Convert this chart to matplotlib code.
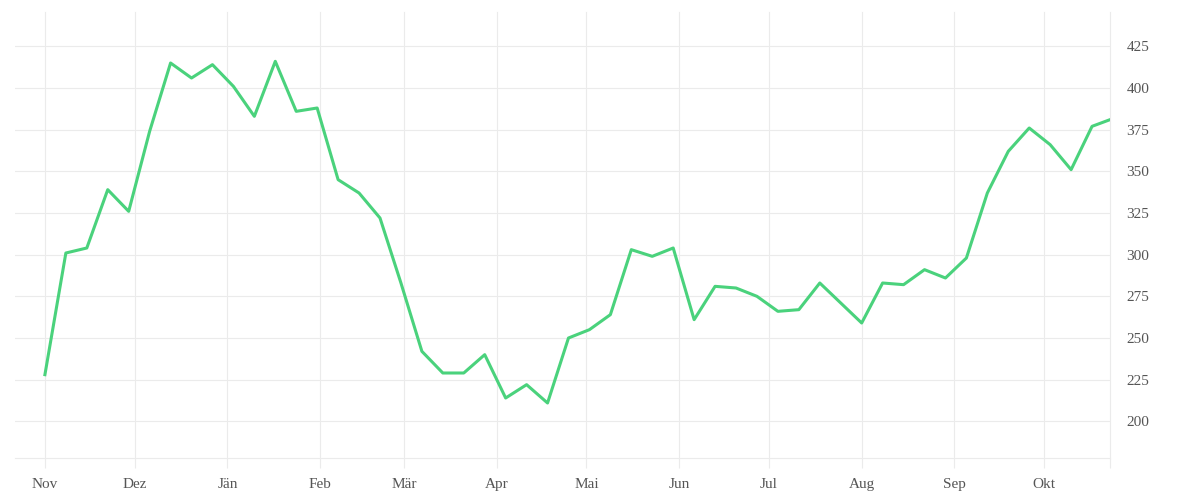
import matplotlib
matplotlib.use("Agg")
import matplotlib.pyplot as plt
import numpy as np
from datetime import date, timedelta

# weekly values, first week starting 1 Nov
values = [228, 301, 304, 339, 326, 374, 415, 406, 414, 401,
          383, 416, 386, 388, 345, 337, 322, 283, 242, 229,
          229, 240, 214, 222, 211, 250, 255, 264, 303, 299,
          304, 261, 281, 280, 275, 266, 267, 283, 271, 259,
          283, 282, 291, 286, 298, 337, 362, 376, 366, 351,
          377, 381]
start = date(2022, 11, 1)
dates = [start + timedelta(days=7 * i) for i in range(len(values) - 1)]
dates.append(dates[-1] + timedelta(days=6))

month_labels = ["Nov", "Dez", "Jän", "Feb", "Mär", "Apr", "Mai",
                "Jun", "Jul", "Aug", "Sep", "Okt"]
month_ticks = [date(2022, 11, 1), date(2022, 12, 1), date(2023, 1, 1),
               date(2023, 2, 1), date(2023, 3, 1), date(2023, 4, 1),
               date(2023, 5, 1), date(2023, 6, 1), date(2023, 7, 1),
               date(2023, 8, 1), date(2023, 9, 1), date(2023, 10, 1)]
y_ticks = [200, 225, 250, 275, 300, 325, 350, 375, 400, 425]

grid_col = "#ebebeb"
text_col = "#555555"
line_col = "#4ad27c"

plt.rcParams['font.family'] = ['Liberation Serif', 'DejaVu Serif']

fig = plt.figure(figsize=(12, 5), dpi=100)
ax = fig.add_axes([0.0125, 0.084, 0.9125, 0.892])

ax.plot(dates, values, color=line_col, linewidth=2.2, zorder=3)

ax.set_xlim(date(2022, 10, 22), dates[-1])
ax.set_ylim(178, 445.6)

# x ticks: month starts plus the right edge
ax.set_xticks(month_ticks + [dates[-1]])
ax.set_xticklabels(month_labels + [""])
ax.set_yticks(y_ticks)

ax.yaxis.tick_right()
ax.tick_params(axis='y', length=0, pad=12, labelsize=11, labelcolor=text_col)
ax.tick_params(axis='x', length=7, width=0.8, color=grid_col, pad=7.5,
               labelsize=11, labelcolor=text_col)

ax.grid(True, color=grid_col, linewidth=0.8, zorder=0)
ax.set_axisbelow(True)
for gl in ax.get_xgridlines():
    gl.set_clip_on(False)

for side in ['top', 'left', 'right']:
    ax.spines[side].set_visible(False)
ax.spines['bottom'].set_color(grid_col)
ax.spines['bottom'].set_linewidth(0.8)

fig.savefig("out.png", dpi=100)
